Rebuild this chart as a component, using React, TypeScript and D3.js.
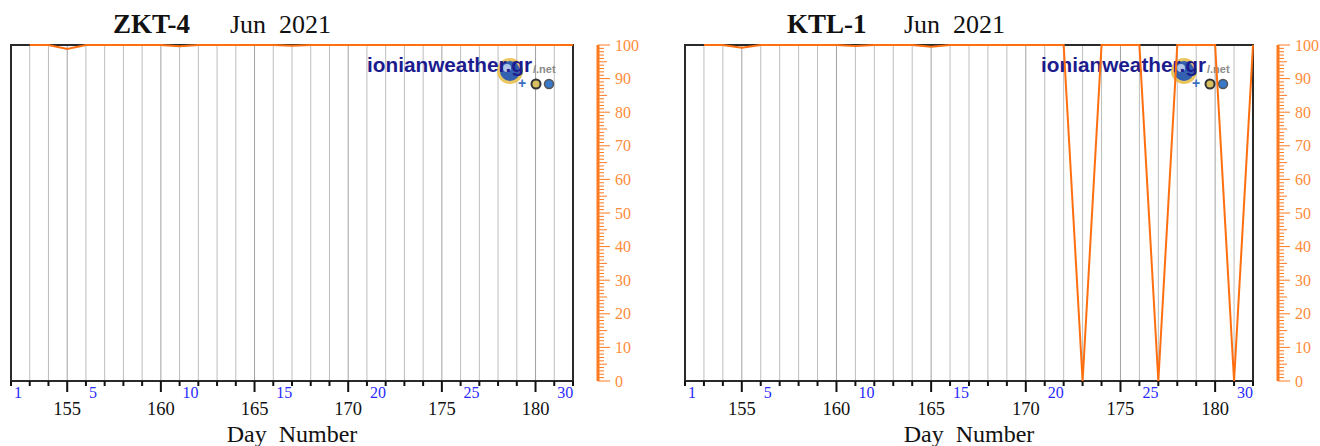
import React from "react";
import * as d3 from "d3";

const junDays = d3.range(1, 31);
const zktValues = [100, 100, 98.8, 100, 100, 100, 100, 100, 99.6, 100, 100, 100, 100, 100, 99.8, 100, 100, 100, 100, 100, 100, 100, 100, 100, 100, 100, 100, 100, 100, 100];
const ktlValues = [100, 100, 99.2, 100, 100, 100, 100, 100, 99.7, 100, 100, 100, 99.5, 100, 100, 100, 100, 100, 100, 100, 0, 100, 100, 100, 0, 100, 100, 100, 0, 100];
const dayNumberTicks = [155, 160, 165, 170, 175, 180];
const monthDayLabels = [1, 5, 10, 15, 20, 25, 30];
const yTicks = [0, 10, 20, 30, 40, 50, 60, 70, 80, 90, 100];

const FIRST_DAYNUM = 152;
const LAST_DAYNUM = 182;

const ORANGE = "#ff6f10";
const AXIS_ORANGE = "#ff7a1f";
const LABEL_ORANGE = "#ff8c3a";

type PanelProps = { left: number; right: number; station: string; values: number[] };

function Panel({ left, right, station, values }: PanelProps) {
  const top = 45;
  const bottom = 381;
  const x = d3.scaleLinear().domain([FIRST_DAYNUM, LAST_DAYNUM]).range([left, right]);
  const y = d3.scaleLinear().domain([0, 100]).range([bottom, top]);
  const allDays = d3.range(FIRST_DAYNUM, LAST_DAYNUM + 1);
  const line = d3
    .line<number>()
    .x((_, i) => x(FIRST_DAYNUM + junDays[i]))
    .y((v) => y(v));
  const axisX = right + 25;
  const minorY = d3.range(0, 101, 1);
  const logoX = left + 356;
  const titleX = left + 102;
  const midX = (left + right) / 2;
  return (
    <g>
      {/* title */}
      <text x={titleX} y={33} fontFamily="'Liberation Serif', serif" fontSize={27} fontWeight="bold" fill="#111">
        {station}
      </text>
      <text x={titleX + 117} y={33} fontFamily="'Liberation Serif', serif" fontSize={26} fill="#111" xmlSpace="preserve">
        {"Jun  2021"}
      </text>
      {/* gridlines */}
      {allDays.slice(1, -1).map((d) => (
        <line key={"g" + d} x1={x(d)} x2={x(d)} y1={top} y2={bottom} stroke={d % 5 === 0 ? "#a0a0a0" : "#bdbdbd"} strokeWidth={1} />
      ))}
      {/* logo */}
      <g>
        <circle cx={logoX + 143} cy={71} r={11.5} fill="#1f4fa8" stroke="#e8c050" strokeWidth={3} opacity={0.9} />
        <circle cx={logoX + 140} cy={68} r={4} fill="#cfe0f5" opacity={0.8} />
        <text x={logoX} y={72} fontFamily="'Liberation Sans', Arial, sans-serif" fontWeight="bold" fontSize={20} fill="#1c1c8f" textLength={165} lengthAdjust="spacingAndGlyphs">
          ionianweather.gr
        </text>
        <text x={logoX + 166} y={73} fontFamily="'Liberation Sans', sans-serif" fontSize={11} fontWeight="bold" fill="#8a8a8a">
          /.net
        </text>
        <text x={logoX + 151} y={88} fontFamily="'Liberation Sans', sans-serif" fontSize={14} fontWeight="bold" fill="#3a6fc0">
          +
        </text>
        <circle cx={logoX + 169} cy={84} r={4.5} fill="#d8c060" stroke="#333" strokeWidth={2} />
        <circle cx={logoX + 182} cy={84} r={4.5} fill="#3a78c8" stroke="#555" strokeWidth={1.5} />
      </g>
      {/* frame */}
      <rect x={left} y={top} width={right - left} height={bottom - top} fill="none" stroke="#2a2a2a" strokeWidth={2} />
      {/* data */}
      <path d={line(values) || ""} fill="none" stroke={ORANGE} strokeWidth={2} strokeLinejoin="miter" />
      {/* bottom ticks */}
      {allDays.map((d) => (
        <line key={"t" + d} x1={x(d)} x2={x(d)} y1={bottom} y2={d % 5 === 0 ? bottom + 11 : bottom + 5} stroke="#111" strokeWidth={2} />
      ))}
      {dayNumberTicks.map((d) => (
        <text key={"dn" + d} x={x(d)} y={415} textAnchor="middle" fontFamily="'Liberation Serif', serif" fontSize={18.5} fill="#111">
          {d}
        </text>
      ))}
      {monthDayLabels.map((m) => (
        <text key={"md" + m} x={x(FIRST_DAYNUM + m - 1) + 3} y={398} fontFamily="'Liberation Serif', serif" fontSize={16} fill="#2a2aff">
          {m}
        </text>
      ))}
      <text x={midX} y={442} textAnchor="middle" fontFamily="'Liberation Serif', serif" fontSize={24} fill="#111" xmlSpace="preserve">
        {"Day  Number"}
      </text>
      {/* right axis */}
      <line x1={axisX} x2={axisX} y1={top} y2={bottom} stroke={AXIS_ORANGE} strokeWidth={3} />
      {minorY.map((v) => (
        <line key={"yt" + v} x1={axisX} x2={axisX + (v % 10 === 0 ? 12 : v % 5 === 0 ? 9 : 6)} y1={y(v)} y2={y(v)} stroke={AXIS_ORANGE} strokeWidth={1} />
      ))}
      {yTicks.map((v) => (
        <text key={"yl" + v} x={axisX + 17} y={y(v) + 5.5} fontFamily="'Liberation Serif', serif" fontSize={16} fill={LABEL_ORANGE}>
          {v}
        </text>
      ))}
    </g>
  );
}

export default function App() {
  return (
    <svg width={1320} height={446} style={{ position: "absolute", left: 0, top: 0, background: "#fff" }}>
      <rect x={0} y={0} width={1320} height={446} fill="#fff" />
      <Panel left={11} right={573} station="ZKT-4" values={zktValues} />
      <Panel left={685} right={1253} station="KTL-1" values={ktlValues} />
    </svg>
  );
}
